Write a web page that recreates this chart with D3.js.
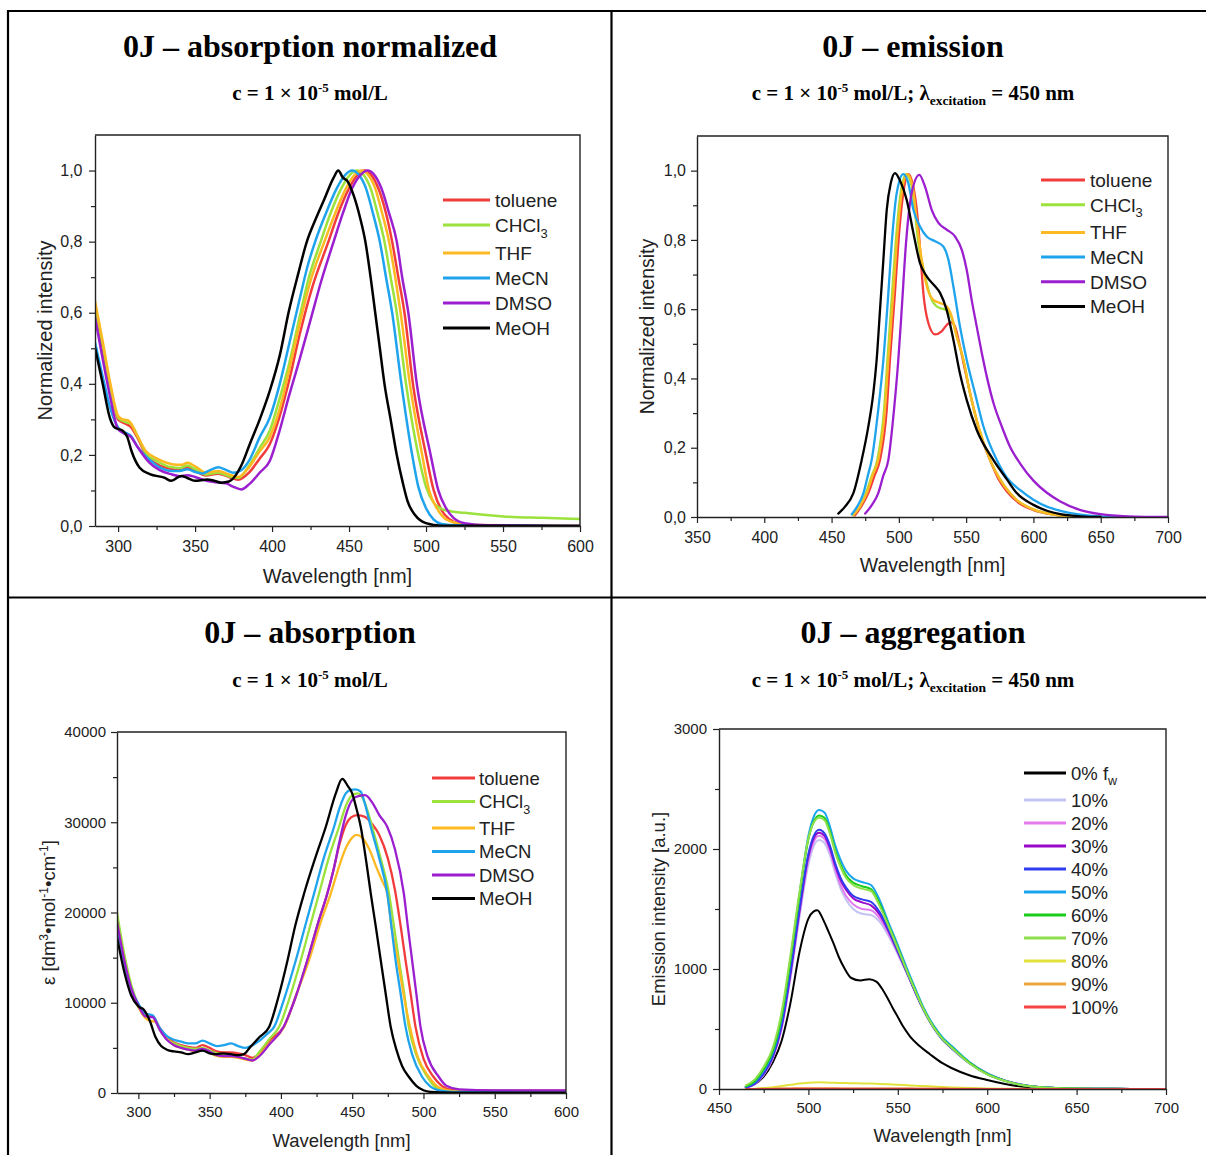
<!DOCTYPE html>
<html>
<head>
<meta charset="utf-8">
<script src="https://cdn.jsdelivr.net/npm/d3@7"></script>
<style>
  html, body { margin: 0; padding: 0; background: #fff; }
  svg { display: block; }
</style>
</head>
<body>
<svg id="chart" width="1206" height="1155"></svg>
<script>
// ------------------------------------------------------------------
// Data: [wavelength nm, value] pairs per solvent / water fraction
// ------------------------------------------------------------------
const solventNames = ['toluene', 'CHCl_3', 'THF', 'MeCN', 'DMSO', 'MeOH'];
const solventColors = ['#f23c3c', '#9be23c', '#fdb922', '#1ea3ec', '#9b1fcf', '#000000'];

// Normalized absorption
const absNormToluene = [[285,0.62],[290,0.5],[295,0.39],[300,0.30],[305,0.287],[308,0.28],[313,0.245],[318,0.2],[325,0.175],[335,0.16],[340,0.158],[345,0.165],[350,0.155],[357,0.142],[365,0.147],[372,0.138],[378,0.13],[385,0.15],[392,0.19],[398.5,0.23],[405,0.31],[411,0.408],[418,0.54],[426,0.67],[436.6,0.8],[443,0.88],[450,0.95],[456,0.99],[460,1.0],[464,0.99],[469,0.95],[474,0.88],[478,0.8],[482,0.7],[486,0.6],[491.5,0.4],[500,0.2],[505,0.1],[510,0.045],[515,0.02],[522,0.007],[535,0.002],[600,0]];
const absNormChcl3 = [[285,0.62],[290,0.51],[295,0.39],[300,0.305],[305,0.292],[308,0.288],[313,0.25],[318,0.205],[325,0.183],[335,0.165],[340,0.163],[345,0.17],[350,0.16],[357,0.145],[365,0.15],[372,0.14],[378,0.135],[385,0.169],[392,0.22],[398.5,0.268],[405,0.36],[411,0.455],[418,0.59],[424,0.7],[431.6,0.8],[438,0.88],[445,0.95],[451,0.99],[455,1.0],[459,0.99],[464,0.95],[468.5,0.88],[473,0.8],[477,0.7],[481,0.6],[487,0.4],[495,0.2],[500,0.11],[505,0.065],[510,0.048],[515,0.042],[525,0.037],[550,0.027],[575,0.023],[600,0.02]];
const absNormThf = [[285,0.634],[290,0.52],[295,0.40],[300,0.31],[303,0.30],[307,0.296],[312,0.258],[318,0.211],[325,0.19],[335,0.174],[341,0.172],[345,0.178],[350,0.168],[357,0.15],[365,0.155],[372,0.145],[378,0.138],[385,0.165],[392,0.21],[398.5,0.25],[405,0.33],[411,0.437],[418,0.57],[425,0.69],[434,0.8],[441,0.88],[448,0.95],[454,0.99],[458,1.0],[462,0.99],[467,0.95],[471.5,0.88],[476,0.8],[480,0.7],[483.5,0.6],[489.5,0.4],[497.5,0.2],[502,0.1],[507,0.05],[512,0.022],[520,0.008],[530,0.003],[600,0.001]];
const absNormMecn = [[285,0.516],[290,0.42],[295,0.33],[300,0.277],[305,0.262],[308,0.255],[313,0.22],[320,0.188],[327,0.165],[335,0.155],[340,0.155],[345,0.16],[350,0.152],[355,0.148],[360,0.158],[365,0.165],[370,0.158],[375,0.15],[380,0.157],[385,0.183],[392,0.25],[398.5,0.305],[405,0.4],[411,0.51],[418,0.64],[423,0.73],[428,0.8],[435,0.88],[442,0.95],[448,0.99],[452,1.0],[456,0.99],[461,0.95],[465.5,0.88],[470,0.8],[474,0.7],[478,0.6],[484,0.4],[491,0.2],[495,0.11],[500,0.05],[505,0.018],[510,0.006],[520,0.002],[600,0]];
const absNormDmso = [[285,0.587],[290,0.47],[295,0.36],[300,0.272],[305,0.258],[308,0.252],[313,0.22],[320,0.18],[327,0.157],[335,0.145],[340,0.14],[345,0.143],[350,0.138],[357,0.128],[362,0.124],[370,0.12],[375,0.11],[380,0.103],[385,0.117],[392,0.15],[398.5,0.183],[405,0.27],[411,0.366],[418,0.47],[425,0.58],[432,0.69],[440,0.8],[446,0.88],[452,0.95],[458,0.99],[462,1.0],[466,0.99],[471,0.95],[476,0.88],[481,0.8],[484.5,0.7],[488.5,0.6],[494,0.4],[503,0.2],[508,0.1],[513,0.05],[518,0.022],[525,0.008],[540,0.002],[600,0]];
const absNormMeoh = [[285,0.502],[290,0.4],[294.6,0.305],[297.8,0.277],[303,0.268],[306,0.25],[308.7,0.211],[314,0.164],[320.6,0.146],[330,0.136],[334.6,0.127],[341,0.141],[345,0.135],[349.8,0.127],[358,0.131],[362,0.128],[367,0.122],[372,0.125],[375,0.135],[380,0.17],[385.5,0.23],[392,0.3],[398.5,0.38],[405,0.48],[411,0.606],[417,0.71],[422.6,0.8],[428,0.86],[434,0.92],[440,0.98],[443,1.0],[446,0.98],[449,0.97],[453,0.93],[457,0.87],[460.6,0.8],[464,0.7],[467,0.6],[470,0.5],[473,0.4],[477,0.3],[481,0.2],[485,0.12],[488,0.07],[493,0.03],[500,0.008],[510,0.001],[600,0]];

// Normalized emission (excitation 450 nm)
const emToluene = [[467.4,0.005],[472,0.03],[477.3,0.069],[482,0.12],[486,0.165],[491,0.31],[493.4,0.454],[497.1,0.647],[499.6,0.79],[503.3,0.935],[507,0.99],[511.2,0.945],[514.5,0.839],[516.3,0.743],[518.2,0.647],[521.9,0.56],[526.9,0.527],[531.8,0.536],[536,0.556],[539,0.562],[541.7,0.55],[545.4,0.493],[549.1,0.425],[554.1,0.338],[560.3,0.243],[567.7,0.165],[574,0.11],[580,0.075],[590,0.038],[600,0.02],[615,0.007],[630,0.002],[650,0]];
const emChcl3 = [[466,0.005],[471,0.03],[475.5,0.069],[480,0.12],[484,0.165],[489,0.31],[491.5,0.454],[495,0.647],[497.6,0.79],[501.3,0.935],[505.5,0.99],[509.5,0.955],[512,0.88],[514.5,0.79],[517,0.74],[519.5,0.695],[522,0.655],[524.4,0.627],[527,0.612],[530.6,0.603],[533.5,0.6],[536.8,0.593],[539.3,0.575],[543,0.521],[548,0.454],[552.9,0.357],[559.1,0.262],[567.8,0.165],[575,0.11],[582.6,0.069],[590,0.042],[600,0.022],[615,0.007],[630,0.002],[650,0]];
const emThf = [[466.2,0.005],[471,0.03],[476.2,0.069],[480.5,0.12],[484.7,0.165],[489.7,0.31],[492.2,0.454],[495.9,0.647],[498.4,0.79],[502.1,0.935],[506.3,0.99],[510.3,0.953],[513.7,0.839],[517,0.743],[520.7,0.666],[525.6,0.627],[530.6,0.618],[535.5,0.608],[539.3,0.579],[543,0.521],[548,0.454],[552.9,0.357],[559.1,0.262],[567.8,0.165],[575,0.11],[582.6,0.069],[590,0.042],[600,0.022],[615,0.007],[630,0.002],[650,0]];
const emMecn = [[465,0.008],[469,0.03],[473.7,0.069],[477,0.12],[479.8,0.165],[484.7,0.31],[488.5,0.454],[492.2,0.647],[494.7,0.79],[498.4,0.935],[503.3,0.99],[507,0.964],[510.8,0.887],[515.7,0.839],[520.7,0.81],[526.9,0.796],[533,0.781],[536.8,0.743],[540.5,0.666],[545.4,0.55],[550.4,0.454],[556.6,0.357],[562.8,0.262],[572.7,0.165],[580,0.115],[590,0.078],[600,0.05],[610,0.03],[620,0.018],[635,0.007],[650,0.002],[670,0]];
const emDmso = [[475,0.01],[480,0.035],[484.7,0.069],[488.5,0.12],[492.2,0.165],[496.4,0.31],[499.6,0.454],[502.1,0.598],[505.3,0.79],[509.5,0.935],[515.2,0.988],[519.5,0.953],[524.4,0.887],[529.4,0.849],[535.5,0.83],[541.7,0.81],[546.7,0.772],[550.4,0.714],[554.1,0.627],[557.8,0.551],[561.6,0.474],[565.3,0.406],[570.3,0.329],[576.4,0.262],[582.6,0.203],[590,0.155],[600,0.105],[610,0.07],[620,0.045],[635,0.02],[650,0.008],[670,0.002],[700,0]];
const emMeoh = [[455,0.01],[460,0.03],[466.2,0.069],[472.4,0.165],[477.3,0.261],[481,0.357],[483.5,0.454],[486,0.598],[488.5,0.743],[491,0.887],[494,0.964],[497.1,0.993],[501,0.97],[505.8,0.916],[510.8,0.82],[515.7,0.733],[520.7,0.695],[526.9,0.666],[530.6,0.647],[535.5,0.598],[540.5,0.512],[545.4,0.414],[550.4,0.338],[557.8,0.252],[570.2,0.165],[580,0.11],[587.6,0.069],[600,0.035],[610,0.018],[620,0.008],[635,0.002],[650,0]];

// Molar absorption coefficient (dm3 mol-1 cm-1)
const epsToluene = [[285,19000],[290,14800],[295,11500],[300,9700],[305,8500],[310,8500],[315,7200],[320,6200],[325,5600],[330,5300],[335,5100],[340,5000],[345,5300],[350,5000],[355,4600],[360,4500],[365,4500],[370,4400],[375,4200],[380,3900],[385,4400],[392,5800],[402,7350],[410,10500],[418.6,14740],[426,18800],[432.6,22130],[437,24800],[441,27500],[445.5,29700],[449,30500],[453.6,30800],[459,30600],[464,29800],[469,28600],[475,26000],[480,22500],[484,18500],[487.4,14740],[491,11000],[494.4,7350],[500,3800],[507,1800],[512,900],[520,350],[540,250],[600,250]];
const epsChcl3 = [[285,20000],[290,15500],[295,12000],[300,9800],[305,8600],[310,8500],[315,7000],[320,6000],[325,5500],[330,5200],[335,5000],[340,4900],[345,5000],[350,4700],[355,4400],[360,4300],[365,4200],[370,4000],[375,3800],[380,3700],[385,4600],[392,6000],[398.8,7350],[406,10500],[414,14740],[420.5,18500],[426.8,22130],[433.5,26000],[440.8,29500],[446,32000],[450,33000],[454,33200],[458,32500],[464,29500],[470,26000],[475.8,22130],[479.3,18500],[482.8,14740],[486.5,11000],[489.7,7350],[495,4200],[502.6,1800],[508,700],[515,250],[530,120],[600,80]];
const epsThf = [[285,19000],[290,14800],[295,11500],[300,9500],[305,8300],[308,8000],[312,7900],[316,6800],[320,6000],[325,5300],[330,5000],[335,4800],[340,4600],[345,4800],[350,4500],[355,4100],[360,4000],[365,4000],[370,3900],[375,3700],[380,3600],[385,4200],[392,5500],[402.3,7350],[411,11000],[419.8,14740],[427,18500],[435,22130],[441,25200],[446,27300],[450,28300],[453,28600],[457,28300],[462,27000],[467,25000],[471,23500],[474.6,22130],[477.5,18500],[482,14740],[486,11000],[490.5,7350],[496,4000],[503.7,1800],[510,700],[518,250],[530,120],[600,80]];
const epsMecn = [[285,18500],[290,14500],[295,11500],[300,9900],[305,8800],[310,8600],[315,7200],[320,6300],[325,5900],[330,5700],[335,5500],[340,5500],[345,5800],[350,5500],[355,5200],[360,5300],[365,5500],[370,5200],[375,5000],[380,5300],[385,5800],[390,6500],[395.3,7350],[402,10300],[410.5,14740],[417,18500],[423.3,22130],[430,26000],[437.3,29500],[441,31500],[445.5,33200],[449,33600],[452.4,33650],[456,33400],[459,32000],[463,29500],[469,26000],[474.6,22130],[477.5,18500],[480.4,14740],[484,11000],[487.4,7350],[492,4300],[499,1800],[505,700],[512,250],[520,120],[600,60]];
const epsDmso = [[285,19000],[290,14800],[295,11600],[300,9700],[305,8500],[310,8400],[315,7000],[320,5900],[325,5300],[330,5000],[335,4800],[340,4700],[345,4900],[350,4600],[355,4200],[360,4100],[365,4100],[370,4000],[375,3800],[380,3600],[385,4100],[392,5400],[402,7350],[410,10500],[418.6,14740],[426,18800],[432.6,22130],[437,24800],[441,27800],[445.5,30770],[448,31900],[452.4,32800],[459,33000],[464,32200],[469,30800],[474.6,29500],[480,27000],[486.2,22130],[489,18500],[492,14740],[495,11000],[497.9,7350],[503,4000],[510.7,1800],[516,800],[525,400],[550,300],[600,300]];
const epsMeoh = [[285,17300],[290,13500],[295,10800],[300,9600],[304,9200],[308,8000],[312,6200],[316,5200],[320,4800],[325,4600],[330,4500],[335,4300],[340,4500],[345,4700],[350,4400],[355,4300],[360,4400],[365,4300],[370,4200],[374,4300],[378,5000],[385,6200],[391.8,7350],[398,10500],[404.7,14740],[410,18500],[416.3,22130],[424,26000],[431.5,29500],[438.5,33200],[443,34800],[447,34000],[450,33200],[453,31500],[456,29500],[460,25500],[463,22130],[466.5,18500],[470,14740],[473.5,11000],[477,7350],[481,4800],[485,3000],[489.7,1800],[495,800],[500,300],[505,120],[520,50],[600,30]];

// Aggregation study: emission vs. water fraction f_w
const aggNames = ['0% f_w', '10%', '20%', '30%', '40%', '50%', '60%', '70%', '80%', '90%', '100%'];
const aggColors = ['#000000', '#c3c3f4', '#e47cf0', '#9a08c8', '#2f3df0', '#1aa4f0', '#1ccc1c', '#8fe04a', '#e2e23c', '#eca53a', '#f44444'];
const aggWavelength0 = [465,470,475,480,485,490,495,500,503,505,508,511,514,517,520,524,529,534,538,541,544,547,550,553,557,562,568,575,580,590,600,610,623,640,660,700];
const agg0 = [15,40,103,220,400,720,1140,1420,1480,1490,1420,1320,1215,1100,1010,925,905,915,895,840,765,680,600,520,435,360,290,215,175,115,75,42,14,4,1,0];
const aggWavelength = [465,470,475,480,485,490,495,500,503,506,509,512,515,518,521,525,530,535,540,545,550,555,560,565,570,575,580,590,600,610,620,630,640,650,660,680,700];
const agg10 = [13,40,118,250,495,925,1430,1870,2025,2075,2050,1950,1800,1670,1580,1500,1460,1450,1390,1270,1120,965,800,650,520,420,350,225,132,72,35,16,8,4,2,1,0];
const agg20 = [14,42,122,255,505,945,1460,1910,2060,2110,2085,1985,1830,1700,1610,1540,1500,1490,1420,1290,1135,970,800,645,515,415,345,220,128,70,33,15,8,4,2,1,0];
const agg30 = [15,45,128,265,520,965,1480,1940,2090,2135,2110,2010,1860,1740,1660,1590,1555,1530,1450,1310,1145,975,800,645,515,415,345,220,128,70,33,15,8,4,2,1,0];
const agg40 = [15,45,130,270,530,980,1500,1960,2110,2160,2130,2030,1880,1760,1680,1610,1580,1560,1470,1320,1150,975,800,640,510,410,340,215,125,68,32,15,8,4,2,1,0];
const agg50 = [20,60,158,300,590,1080,1620,2110,2270,2325,2305,2190,2030,1910,1820,1755,1725,1700,1570,1380,1200,1010,830,660,530,430,360,225,130,70,33,15,8,4,2,1,0];
const agg60 = [22,65,165,310,600,1080,1610,2080,2230,2280,2260,2150,1990,1870,1780,1720,1690,1665,1540,1360,1180,990,815,650,520,420,350,220,125,68,32,15,8,4,2,1,0];
const agg70 = [30,80,185,340,640,1120,1640,2090,2220,2260,2240,2130,1970,1850,1760,1700,1670,1650,1520,1350,1170,985,810,645,515,415,345,215,122,66,31,14,7,4,2,1,0];
const agg80 = [0,3,8,15,25,35,45,52,55,56,55,53,52,50,49,48,46,45,42,39,36,32,28,24,20,16,13,8,5,3,2,1,0,0,0,0,0];
const agg90 = [0,1,2,3,4,5,6,6,6,6,6,6,6,5,5,5,5,5,5,4,4,4,3,3,3,2,2,2,1,1,1,0,0,0,0,0,0];
const agg100 = [0,0,1,1,2,2,3,3,3,3,3,3,3,3,3,3,3,3,3,3,2,2,2,2,2,2,1,1,1,1,0,0,0,0,0,0,0];

// Axis ticks
const ticksAbsX = [300, 350, 400, 450, 500, 550, 600];
const ticksAbsXMinor = [325, 375, 425, 475, 525, 575];
const ticksNormY = [0, 0.2, 0.4, 0.6, 0.8, 1.0];
const ticksNormYMinor = [0.1, 0.3, 0.5, 0.7, 0.9];
const ticksEmX = [350, 400, 450, 500, 550, 600, 650, 700];
const ticksEmXMinor = [375, 425, 475, 525, 575, 625, 675];
const ticksEpsY = [0, 10000, 20000, 30000, 40000];
const ticksEpsYMinor = [5000, 15000, 25000, 35000];
const ticksAggX = [450, 500, 550, 600, 650, 700];
const ticksAggXMinor = [475, 525, 575, 625, 675];
const ticksAggY = [0, 1000, 2000, 3000];
const ticksAggYMinor = [500, 1500, 2500];

// ------------------------------------------------------------------
// Drawing
// ------------------------------------------------------------------
const svg = d3.select('#chart');
const SANS = '"Liberation Sans", Arial, Helvetica, sans-serif';
const SERIF = '"Liberation Serif", "Times New Roman", Times, serif';
const INK = '#222';

// table grid
const grid = svg.append('g').attr('stroke', '#000').attr('stroke-width', 2.2).attr('fill', 'none');
grid.append('line').attr('x1', 7).attr('x2', 1206).attr('y1', 11).attr('y2', 11);
grid.append('line').attr('x1', 8).attr('x2', 8).attr('y1', 10).attr('y2', 1155);
grid.append('line').attr('x1', 611.5).attr('x2', 611.5).attr('y1', 10).attr('y2', 1155);
grid.append('line').attr('x1', 7).attr('x2', 1206).attr('y1', 597.5).attr('y2', 597.5);

// text with an optional "_" subscript part
function richText(sel, str, subSize, subDy) {
  const parts = str.split('_');
  sel.append('tspan').text(parts[0]);
  if (parts.length > 1) sel.append('tspan').attr('font-size', subSize).attr('dy', subDy).text(parts[1]);
}

function title(cx, yb, text) {
  svg.append('text').attr('x', cx).attr('y', yb).attr('text-anchor', 'middle')
    .attr('font-family', SERIF).attr('font-weight', 'bold').attr('font-size', 32)
    .attr('fill', '#000').text(text);
}

function subtitle(cx, yb, withExcitation) {
  const t = svg.append('text').attr('x', cx).attr('y', yb).attr('text-anchor', 'middle')
    .attr('font-family', SERIF).attr('font-weight', 'bold').attr('font-size', 21).attr('fill', '#000');
  t.append('tspan').text('c = 1 × 10');
  t.append('tspan').attr('font-size', 13).attr('dy', -8).text('-5');
  t.append('tspan').attr('dy', 8).text(withExcitation ? ' mol/L; λ' : ' mol/L');
  if (withExcitation) {
    t.append('tspan').attr('font-size', 13.5).attr('dy', 5).text('excitation');
    t.append('tspan').attr('dy', -5).text(' = 450 nm');
  }
}

function drawPanel(p) {
  const b = p.box;
  const x = d3.scaleLinear().domain(p.xDomain).range([b.left, b.right]);
  const y = d3.scaleLinear().domain(p.yDomain).range([b.bottom, b.top]);
  const g = svg.append('g');

  const clipId = 'clip-' + p.id;
  g.append('clipPath').attr('id', clipId).append('rect')
    .attr('x', b.left).attr('y', b.top).attr('width', b.right - b.left).attr('height', b.bottom - b.top);

  const line = d3.line().x(d => x(d[0])).y(d => y(d[1])).curve(d3.curveMonotoneX);
  const plot = g.append('g').attr('clip-path', `url(#${clipId})`);
  p.series.forEach(s => {
    plot.append('path').attr('d', line(s.points)).attr('fill', 'none')
      .attr('stroke', s.color).attr('stroke-width', p.lineWidth)
      .attr('stroke-linejoin', 'round').attr('stroke-linecap', 'round');
  });

  // frame (top + right)
  g.append('path').attr('d', `M${b.left},${b.top}H${b.right}V${b.bottom}`)
    .attr('fill', 'none').attr('stroke', INK).attr('stroke-width', 1.4);

  const styleAxis = sel => {
    sel.select('.domain').attr('stroke', INK).attr('stroke-width', 1.4);
    sel.selectAll('.tick line').attr('stroke', INK).attr('stroke-width', 1.2);
    sel.selectAll('text').attr('font-family', SANS).attr('font-size', p.tickFont).attr('fill', INK);
  };

  // x axis
  const xa = g.append('g').attr('transform', `translate(0,${b.bottom})`)
    .call(d3.axisBottom(x).tickValues(p.xTicks).tickSize(6).tickSizeOuter(0)
      .tickPadding(p.xPad).tickFormat(d3.format('d')));
  styleAxis(xa);
  const xm = g.append('g').attr('transform', `translate(0,${b.bottom})`)
    .call(d3.axisBottom(x).tickValues(p.xMinor).tickSize(4).tickFormat(''));
  xm.select('.domain').remove();
  styleAxis(xm);

  // y axis
  const ya = g.append('g').attr('transform', `translate(${b.left},0)`)
    .call(d3.axisLeft(y).tickValues(p.yTicks).tickSize(6).tickSizeOuter(0)
      .tickPadding(p.yPad).tickFormat(p.yFormat));
  styleAxis(ya);
  const ym = g.append('g').attr('transform', `translate(${b.left},0)`)
    .call(d3.axisLeft(y).tickValues(p.yMinor).tickSize(4).tickFormat(''));
  ym.select('.domain').remove();
  styleAxis(ym);

  // axis titles
  g.append('text').attr('x', (b.left + b.right) / 2).attr('y', p.xTitleY).attr('text-anchor', 'middle')
    .attr('font-family', SANS).attr('font-size', p.titleFont).attr('fill', INK).text('Wavelength [nm]');
  const yt = g.append('text')
    .attr('transform', `translate(${p.yTitleX},${(b.top + b.bottom) / 2}) rotate(-90)`)
    .attr('text-anchor', 'middle').attr('font-family', SANS).attr('font-size', p.titleFont).attr('fill', INK);
  p.yTitle(yt);

  // legend
  const L = p.legend;
  p.series.forEach((s, i) => {
    const yy = L.y0 + i * L.step + (i >= L.extraFrom ? L.extra : 0);
    g.append('line').attr('x1', L.x1).attr('x2', L.x2).attr('y1', yy).attr('y2', yy)
      .attr('stroke', s.color).attr('stroke-width', 3);
    const t = g.append('text').attr('x', L.tx).attr('y', yy + L.size * 0.36)
      .attr('font-family', SANS).attr('font-size', L.size).attr('fill', INK);
    richText(t, s.name, L.size * 0.68, L.size * 0.3);
  });
}

const commaFmt = d => d3.format('.1f')(d).replace('.', ',');
const plainTitle = str => sel => sel.text(str);

// Panel: normalized absorption
title(310, 57, '0J – absorption normalized');
subtitle(310, 100, false);
drawPanel({
  id: 'absnorm',
  box: { left: 95, right: 580, top: 135, bottom: 526 },
  xDomain: [285, 600], yDomain: [0, 1.1],
  xTicks: ticksAbsX, xMinor: ticksAbsXMinor, yTicks: ticksNormY, yMinor: ticksNormYMinor,
  yFormat: commaFmt, tickFont: 16, xPad: 8.3, yPad: 6.5,
  titleFont: 20, xTitleY: 583, yTitleX: 52, yTitle: plainTitle('Normalized intensity'),
  lineWidth: 2.5,
  series: [absNormToluene, absNormChcl3, absNormThf, absNormMecn, absNormDmso, absNormMeoh]
    .map((pts, i) => ({ name: solventNames[i], color: solventColors[i], points: pts })),
  legend: { x1: 443, x2: 490, tx: 495, y0: 200, step: 25, extra: 3, extraFrom: 2, size: 19 }
});

// Panel: emission
title(913, 57, '0J – emission');
subtitle(913, 100, true);
drawPanel({
  id: 'em',
  box: { left: 697, right: 1168, top: 136, bottom: 517 },
  xDomain: [350, 700], yDomain: [0, 1.1],
  xTicks: ticksEmX, xMinor: ticksEmXMinor, yTicks: ticksNormY, yMinor: ticksNormYMinor,
  yFormat: commaFmt, tickFont: 16, xPad: 8.3, yPad: 5,
  titleFont: 19.5, xTitleY: 572, yTitleX: 654, yTitle: plainTitle('Normalized intensity'),
  lineWidth: 2.3,
  series: [emToluene, emChcl3, emThf, emMecn, emDmso, emMeoh]
    .map((pts, i) => ({ name: solventNames[i], color: solventColors[i], points: pts })),
  legend: { x1: 1041, x2: 1085, tx: 1090, y0: 180, step: 24.7, extra: 3, extraFrom: 2, size: 19 }
});

// Panel: molar absorption
title(310, 643, '0J – absorption');
subtitle(310, 687, false);
drawPanel({
  id: 'eps',
  box: { left: 117, right: 566, top: 732, bottom: 1093 },
  xDomain: [285, 600], yDomain: [0, 40000],
  xTicks: ticksAbsX, xMinor: ticksAbsXMinor, yTicks: ticksEpsY, yMinor: ticksEpsYMinor,
  yFormat: d3.format('d'), tickFont: 15, xPad: 7.4, yPad: 5,
  titleFont: 18.5, xTitleY: 1147, yTitleX: 55,
  yTitle: sel => {
    sel.append('tspan').text('ε [dm');
    sel.append('tspan').attr('font-size', 12).attr('dy', -7).text('3');
    sel.append('tspan').attr('dy', 7).text('•mol');
    sel.append('tspan').attr('font-size', 12).attr('dy', -7).text('-1');
    sel.append('tspan').attr('dy', 7).text('•cm');
    sel.append('tspan').attr('font-size', 12).attr('dy', -7).text('-1');
    sel.append('tspan').attr('dy', 7).text(']');
  },
  lineWidth: 2.3,
  series: [epsToluene, epsChcl3, epsThf, epsMecn, epsDmso, epsMeoh]
    .map((pts, i) => ({ name: solventNames[i], color: solventColors[i], points: pts })),
  legend: { x1: 432, x2: 475, tx: 479, y0: 778, step: 23.5, extra: 3, extraFrom: 2, size: 18.5 }
});

// Panel: aggregation
title(913, 643, '0J – aggregation');
subtitle(913, 687, true);
const aggSeries = [agg10, agg20, agg30, agg40, agg50, agg60, agg70, agg80, agg90, agg100]
  .map(v => d3.zip(aggWavelength, v));
drawPanel({
  id: 'agg',
  box: { left: 719, right: 1166, top: 729, bottom: 1089 },
  xDomain: [450, 700], yDomain: [0, 3000],
  xTicks: ticksAggX, xMinor: ticksAggXMinor, yTicks: ticksAggY, yMinor: ticksAggYMinor,
  yFormat: d3.format('d'), tickFont: 15, xPad: 7.4, yPad: 6,
  titleFont: 18.5, xTitleY: 1142, yTitleX: 665, yTitle: plainTitle('Emission intensity [a.u.]'),
  lineWidth: 2,
  series: [d3.zip(aggWavelength0, agg0)].concat(aggSeries)
    .map((pts, i) => ({ name: aggNames[i], color: aggColors[i], points: pts })),
  legend: { x1: 1024, x2: 1066, tx: 1071, y0: 773, step: 23, extra: 4, extraFrom: 1, size: 18.5 }
});
</script>
</body>
</html>
